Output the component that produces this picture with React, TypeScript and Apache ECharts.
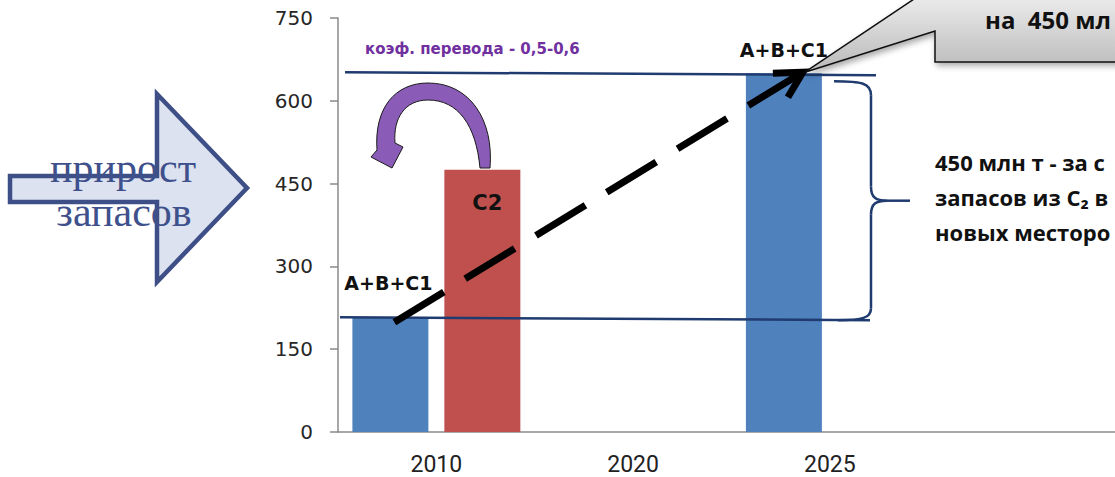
import React, { useEffect, useRef } from "react";
import * as echarts from "echarts";

// Categories and reserve values (млн т)
const years = ["2010", "2020", "2025", ""];
const reservesABC1: (number | null)[] = [208, null, 650, null];
const reservesC2: (number | null)[] = [475, null, null, null];
const yMin = 0;
const yMax = 750;
const yStep = 150;

const labelABC1 = "A+B+C1";
const labelC2 = "C2";
const noteCoef = "коэф. перевода - 0,5-0,6";
const noteCallout = "на  450 мл";
const noteRight = ["450 млн т - за с", "запасов из C₂ в", "новых месторо"];
const arrowText = ["прирост", "запасов"];

// Curved purple arrow above the C2 bar
echarts.graphic.registerShape(
  "curlArrow",
  echarts.graphic.extendPath(
    "M 490 168 C 494 120 470 83 428 83 C 395 83 374 108 377 150 L 371 157 L 392 168 L 403 147 L 395 143 C 393 118 405 100 428 100 C 458 100 476 125 480 168 Z",
    {}
  )
);

export default function App() {
  const ref = useRef<HTMLDivElement>(null);

  useEffect(() => {
    const el = ref.current!;
    const chart = echarts.init(el, null, { renderer: "svg" });

    const boldLabel = {
      fontFamily: "DejaVu Sans",
      fontWeight: "bold" as const,
      fontSize: 19,
      color: "#111",
    };

    chart.setOption({
      animation: false,
      backgroundColor: "#ffffff",
      grid: { left: 338, top: 18, height: 414, width: 787, containLabel: false },
      xAxis: {
        type: "category",
        data: years,
        axisLine: { lineStyle: { color: "#8a8a8a", width: 1.5 } },
        axisTick: { length: 8, lineStyle: { color: "#8a8a8a", width: 1.5 } },
        axisLabel: { fontFamily: "Roboto", fontSize: 23, color: "#222", margin: 21 },
      },
      yAxis: {
        type: "value",
        min: yMin,
        max: yMax,
        interval: yStep,
        splitLine: { show: false },
        axisLine: { show: true, lineStyle: { color: "#8a8a8a", width: 1.5 } },
        axisTick: { show: true, length: 8, lineStyle: { color: "#8a8a8a", width: 1.5 } },
        axisLabel: { fontFamily: "DejaVu Sans", fontSize: 20, color: "#262626", margin: 25 },
      },
      series: [
        {
          type: "bar",
          name: labelABC1,
          barWidth: 76,
          barGap: "21%",
          itemStyle: { color: "#4f81bd" },
          data: reservesABC1.map((v, i) =>
            v == null
              ? null
              : {
                  value: v,
                  label: {
                    show: true,
                    position: "top",
                    distance: i === 0 ? 25 : 14,
                    offset: i === 0 ? [-2, 0] : [0, 0],
                    formatter: labelABC1,
                    ...boldLabel,
                  },
                }
          ),
        },
        {
          type: "bar",
          name: labelC2,
          barWidth: 76,
          itemStyle: { color: "#c0504d" },
          data: reservesC2.map((v) =>
            v == null
              ? null
              : {
                  value: v,
                  label: {
                    show: true,
                    position: "insideTop",
                    distance: 23,
                    offset: [5, 0],
                    formatter: labelC2,
                    ...boldLabel,
                    fontSize: 21,
                  },
                }
          ),
        },
      ],
    });

    // Pixel anchors derived from the data
    const yHigh = chart.convertToPixel({ yAxisIndex: 0 }, reservesABC1[2] as number) as number;
    const yLow = chart.convertToPixel({ yAxisIndex: 0 }, reservesABC1[0] as number) as number;
    const x2010 = chart.convertToPixel({ xAxisIndex: 0 }, years[0]) as number;
    const x2025 = chart.convertToPixel({ xAxisIndex: 0 }, years[2]) as number;
    const leftBarX = x2010 - 46;
    const rightBarX = x2025 - 46;

    const tip = [rightBarX + 19, yHigh - 1];
    const start = [leftBarX + 4, yLow + 5];
    const braceTop = yHigh + 8;
    const braceBot = yLow + 3;
    const braceMid = (braceTop + braceBot) / 2;
    const bx = 871;
    const navy = "#1f3b6f";

    const braceStyle = { stroke: navy, lineWidth: 2.5, fill: null };

    chart.setOption({
      graphic: {
        elements: [
          // block arrow on the left
          {
            type: "polygon",
            z: 50,
            shape: {
              points: [
                [10, 176],
                [157, 176],
                [157, 94],
                [247, 188],
                [157, 282],
                [157, 202],
                [10, 202],
              ],
            },
            style: { fill: "#dde2f0", stroke: "#3d4f86", lineWidth: 4.5, lineJoin: "miter" },
          },
          {
            type: "text",
            z: 51,
            x: 123,
            y: 168,
            style: {
              text: arrowText[0],
              fontFamily: "Liberation Serif",
              fontSize: 42,
              fill: "#3f518c",
              align: "center",
              verticalAlign: "middle",
            },
          },
          {
            type: "text",
            z: 51,
            x: 124,
            y: 212,
            style: {
              text: arrowText[1],
              fontFamily: "Liberation Serif",
              fontSize: 42,
              fill: "#3f518c",
              align: "center",
              verticalAlign: "middle",
            },
          },
          // reference levels
          {
            type: "line",
            z: 60,
            shape: { x1: 345, y1: yHigh - 1, x2: 876, y2: yHigh + 2 },
            style: { stroke: navy, lineWidth: 2.5 },
          },
          {
            type: "line",
            z: 60,
            shape: { x1: 340, y1: yLow, x2: 870, y2: yLow + 3 },
            style: { stroke: navy, lineWidth: 2.5 },
          },
          {
            type: "text",
            z: 61,
            x: 365,
            y: 49,
            style: {
              text: noteCoef,
              fontFamily: "DejaVu Sans",
              fontWeight: "bold",
              fontSize: 15,
              fill: "#7030a0",
              align: "left",
              verticalAlign: "middle",
            },
          },
          // curved arrow
          {
            type: "curlArrow",
            z: 62,
            style: { fill: "#8a5cb8", stroke: "#1a1a1a", lineWidth: 1 },
          },
          // dashed growth arrow
          {
            type: "line",
            z: 70,
            shape: { x1: start[0], y1: start[1], x2: tip[0] - 5, y2: tip[1] + 3 },
            style: { stroke: "#000", lineWidth: 7, lineDash: [58, 25], lineCap: "butt" },
          },
          {
            type: "polyline",
            z: 70,
            shape: {
              points: [
                [tip[0] - 30, tip[1] + 1],
                [tip[0], tip[1]],
                [tip[0] - 15, tip[1] + 25],
              ],
            },
            style: { stroke: "#000", lineWidth: 7, lineJoin: "miter", fill: null },
          },
          // callout
          {
            type: "polygon",
            z: 80,
            shape: {
              points: [
                [tip[0] + 2, tip[1]],
                [935, -15],
                [935, -40],
                [1150, -40],
                [1150, 62],
                [935, 62],
                [935, 31],
              ],
            },
            style: {
              fill: new echarts.graphic.LinearGradient(0, 0, 0, 1, [
                { offset: 0, color: "#ffffff" },
                { offset: 0.4, color: "#e6e6e6" },
                { offset: 1, color: "#b9b9b9" },
              ]),
              stroke: "#111",
              lineWidth: 1.5,
              shadowBlur: 6,
              shadowOffsetX: 2,
              shadowOffsetY: 3,
              shadowColor: "rgba(0,0,0,0.35)",
            },
          },
          {
            type: "text",
            z: 81,
            x: 985,
            y: 19,
            style: {
              text: noteCallout,
              fontFamily: "Open Sans",
              fontWeight: "bold",
              fontSize: 24,
              fill: "#111",
              align: "left",
              verticalAlign: "middle",
            },
          },
          // brace
          {
            type: "bezierCurve",
            z: 60,
            shape: { x1: 834, y1: braceTop, cpx1: 862, cpy1: braceTop, cpx2: bx, cpy2: braceTop + 2, x2: bx, y2: braceTop + 14 },
            style: braceStyle,
          },
          {
            type: "line",
            z: 60,
            shape: { x1: bx, y1: braceTop + 14, x2: bx, y2: braceMid - 14 },
            style: braceStyle,
          },
          {
            type: "bezierCurve",
            z: 60,
            shape: { x1: bx, y1: braceMid - 14, cpx1: bx, cpy1: braceMid - 3, cpx2: bx + 5, cpy2: braceMid, x2: bx + 16, y2: braceMid },
            style: braceStyle,
          },
          {
            type: "line",
            z: 60,
            shape: { x1: bx + 16, y1: braceMid, x2: 910, y2: braceMid },
            style: braceStyle,
          },
          {
            type: "bezierCurve",
            z: 60,
            shape: { x1: bx + 16, y1: braceMid, cpx1: bx + 5, cpy1: braceMid, cpx2: bx, cpy2: braceMid + 3, x2: bx, y2: braceMid + 14 },
            style: braceStyle,
          },
          {
            type: "line",
            z: 60,
            shape: { x1: bx, y1: braceMid + 14, x2: bx, y2: braceBot - 12 },
            style: braceStyle,
          },
          {
            type: "bezierCurve",
            z: 60,
            shape: { x1: bx, y1: braceBot - 12, cpx1: bx, cpy1: braceBot - 2, cpx2: 862, cpy2: braceBot, x2: 838, y2: braceBot },
            style: braceStyle,
          },
          // explanatory text on the right
          ...noteRight.map((t, i) => ({
            type: "text",
            z: 61,
            x: 935,
            y: 162 + i * 35,
            style: {
              text: t,
              fontFamily: "Open Sans",
              fontWeight: "bold",
              fontSize: 22,
              fill: "#111",
              align: "left",
              verticalAlign: "middle",
            },
          })),
        ],
      },
    });

    return () => chart.dispose();
  }, []);

  return (
    <div
      ref={ref}
      style={{ position: "fixed", left: 0, top: 0, width: 1125, height: 477, background: "#fff" }}
    />
  );
}
